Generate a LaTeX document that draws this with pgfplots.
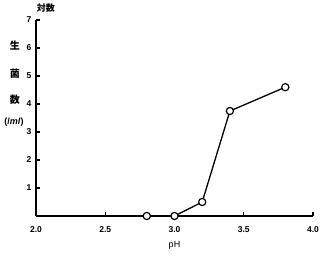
\documentclass[border=0pt]{standalone}
\usepackage{fontspec}
\setmainfont{Liberation Sans}
\newfontfamily\jp{Noto Sans CJK JP}
\usepackage{pgfplots}
\pgfplotsset{compat=1.18}
\begin{document}
\begin{tikzpicture}
\begin{axis}[
  scale only axis, width=277pt, height=196pt,
  xmin=2, xmax=4, ymin=0, ymax=7,
  axis x line=bottom, axis y line=left,
  axis line style={line width=1.6pt, -},
  tick style={line width=1.3pt, black},
  tick align=inside, major tick length=4pt,
  xtick={2.5,3,3.5,4}, extra x ticks={2}, extra x tick style={major tick length=0pt},
  extra x tick labels={2.0},
  xticklabels={2.5,3.0,3.5,4.0},
  ytick={1,2,3,4,5,6,7},
  /pgf/number format/assume math mode=true,
  ticklabel style={font=\bfseries\fontsize{8.5}{9}\selectfont},
  xticklabel style={yshift=-7pt},
  yticklabel style={xshift=-1pt},
  clip=false,
]
\addplot[black, line width=1.3pt, mark=*, mark size=3.6pt,
  mark options={fill=white, draw=black, line width=1.2pt}]
  coordinates {(2.8,0) (3.0,0) (3.2,0.5) (3.4,3.75) (3.8,4.6)};
\node[font=\fontsize{9}{10}\selectfont] at (axis cs:3.0,0) [yshift=-29pt] {pH};
\node[font=\jp\bfseries\fontsize{9}{10}\selectfont] at (axis cs:2.0,7) [xshift=10pt, yshift=12pt] {対数};
\node[font=\jp\bfseries\fontsize{10}{11}\selectfont] at (axis cs:2.0,6.1) [xshift=-21pt] {生};
\node[font=\jp\bfseries\fontsize{10}{11}\selectfont] at (axis cs:2.0,5.1) [xshift=-21pt] {菌};
\node[font=\jp\bfseries\fontsize{10}{11}\selectfont] at (axis cs:2.0,4.15) [xshift=-21pt] {数};
\node[font=\bfseries\fontsize{9}{10}\selectfont] at (axis cs:2.0,3.35) [xshift=-22pt] {(/\textit{ml})};
\end{axis}
\pgfresetboundingbox
\path (-36pt,-42pt) rectangle (291pt,216pt);
\end{tikzpicture}
\end{document}
